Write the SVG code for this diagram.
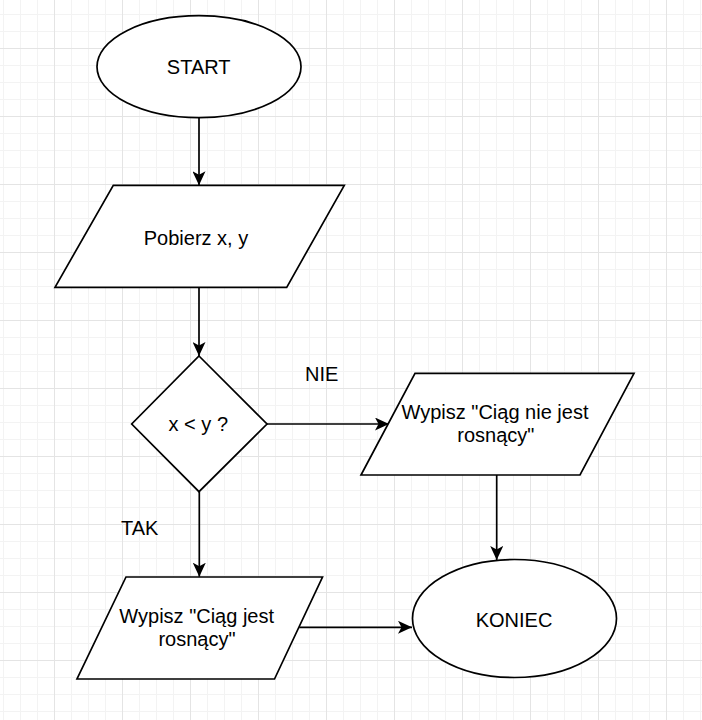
<svg xmlns="http://www.w3.org/2000/svg" width="702" height="720" viewBox="0 0 702 720">
  <defs>
    <pattern id="grid" x="54" y="48" width="68" height="68" patternUnits="userSpaceOnUse">
      <path d="M17.5,0 V68 M34.5,0 V68 M51.5,0 V68 M0,17.5 H68 M0,34.5 H68 M0,51.5 H68" stroke="#f3f3f3" stroke-width="1" fill="none"/>
      <path d="M0.5,0 V68 M0,0.5 H68" stroke="#e4e4e4" stroke-width="1" fill="none"/>
    </pattern>
    <marker id="arrow" viewBox="0 0 14 13" refX="14" refY="6.5" markerWidth="14" markerHeight="13" markerUnits="userSpaceOnUse" orient="auto">
      <path d="M0,0 L14,6.5 L0,13 L3.5,6.5 Z" fill="#000"/>
    </marker>
    <style>
      .shape { fill: #fff; stroke: #000; stroke-width: 1.7; }
      .edge { fill: none; stroke: #000; stroke-width: 1.7; marker-end: url(#arrow); }
      .label { font-family: "Liberation Sans", Arial, Helvetica, sans-serif; font-size: 20px; fill: #000; text-anchor: middle; }
    </style>
  </defs>
  <rect x="0" y="0" width="702" height="720" fill="#fff"/>
  <rect x="0" y="0" width="702" height="720" fill="url(#grid)"/>

  <g id="connectors">
    <line class="edge" x1="199" y1="117.7" x2="199" y2="185.3"/>
    <line class="edge" x1="199" y1="287.3" x2="199" y2="356"/>
    <line class="edge" x1="267" y1="424" x2="389" y2="424"/>
    <text class="label" x="321.7" y="380.7">NIE</text>
    <line class="edge" x1="199.3" y1="491.7" x2="199.3" y2="576.7"/>
    <text class="label" x="139.7" y="535">TAK</text>
    <line class="edge" x1="496.7" y1="475" x2="496.7" y2="560"/>
    <line class="edge" x1="299.3" y1="627.3" x2="412" y2="627.3"/>
  </g>

  <g id="start">
    <ellipse class="shape" cx="199" cy="66.7" rx="102" ry="51"/>
    <text class="label" x="198.7" y="74.3">START</text>
  </g>

  <g id="pobierz">
    <polygon class="shape" points="113.3,185.3 344.3,185.3 286.7,287.3 55,287.3"/>
    <text class="label" x="196" y="245">Pobierz x, y</text>
  </g>

  <g id="decision">
    <polygon class="shape" points="199,356 267,424 199,491.7 131.7,424"/>
    <text class="label" x="198.3" y="430.7">x &lt; y ?</text>
  </g>

  <g id="wypisz-nie">
    <polygon class="shape" points="415,373.3 634,373.3 580,475 361,475"/>
    <text class="label" x="495" y="419">Wypisz "Ciąg nie jest</text>
    <text class="label" x="495.8" y="441.7">rosnący"</text>
  </g>

  <g id="wypisz-tak">
    <polygon class="shape" points="126,577 322.5,577 274.5,679 77,679"/>
    <text class="label" x="196.7" y="622.7">Wypisz "Ciąg jest</text>
    <text class="label" x="197" y="646">rosnący"</text>
  </g>

  <g id="koniec">
    <ellipse class="shape" cx="514.5" cy="618.5" rx="102" ry="59"/>
    <text class="label" x="514" y="626.7">KONIEC</text>
  </g>
</svg>
